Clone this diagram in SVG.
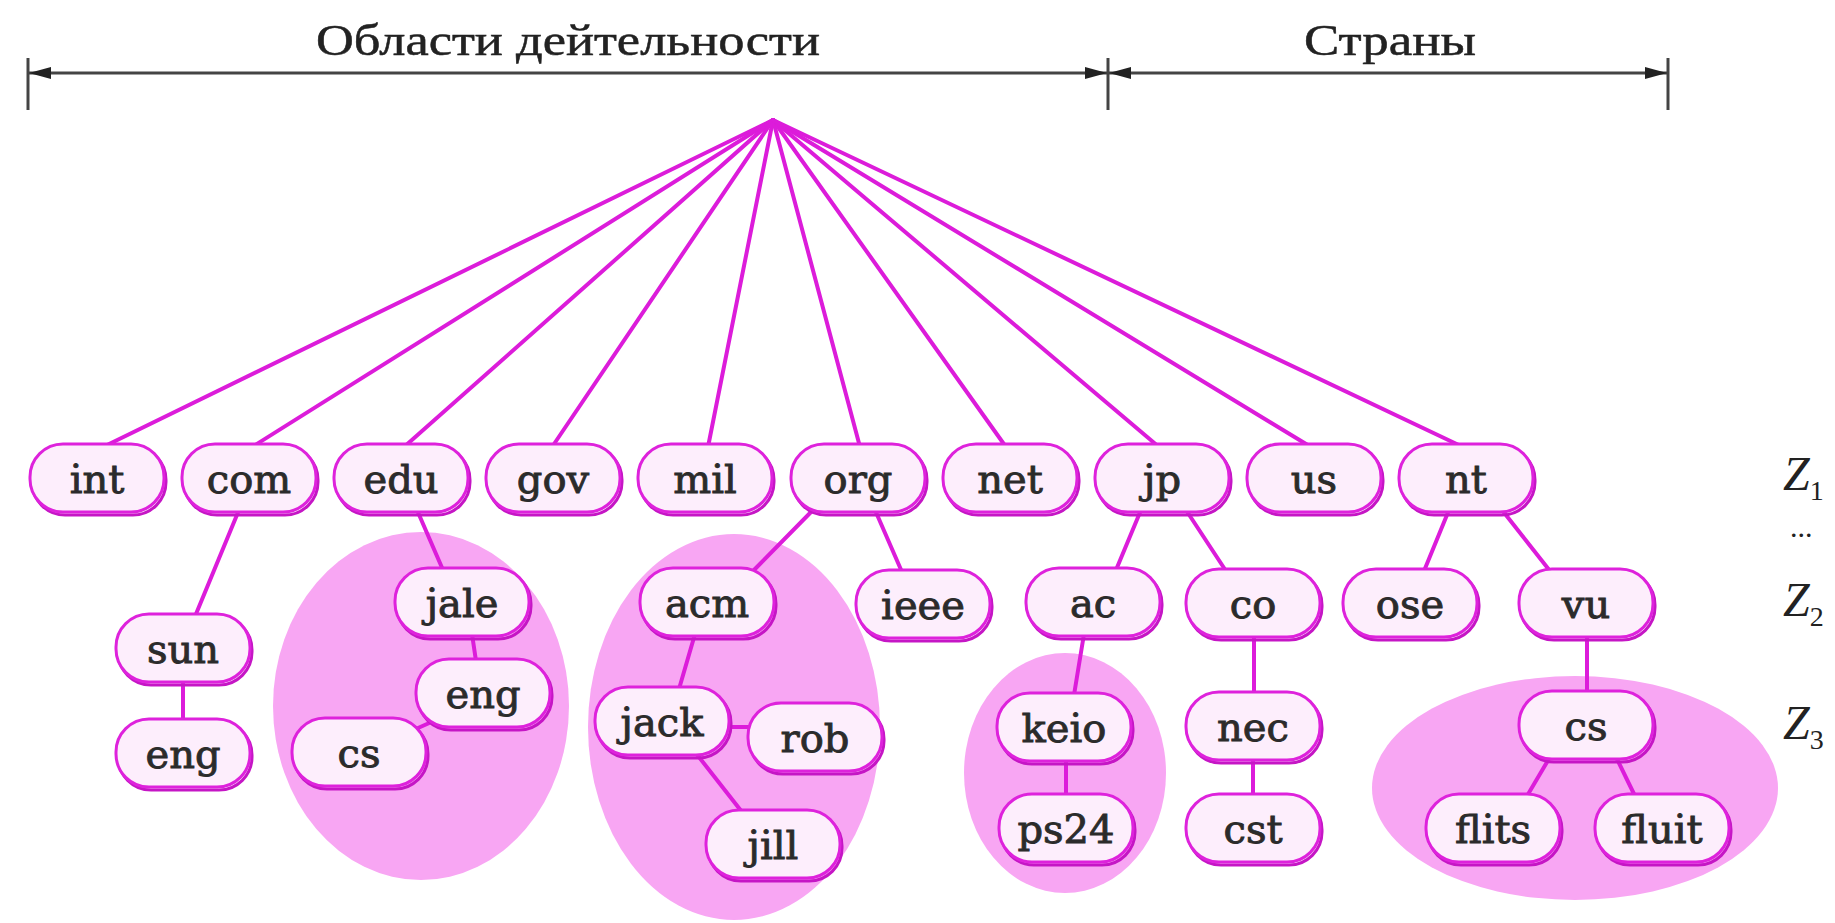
<svg xmlns="http://www.w3.org/2000/svg" width="1835" height="923" viewBox="0 0 1835 923">
  <style>
    .zone { fill: #f8a6f3; }
    .edge { stroke: #dc1cda; stroke-width: 4; fill: none; stroke-linecap: round; }
    .shadow { fill: none; stroke: #c516c5; stroke-width: 3; }
    .box { fill: #fdeefc; stroke: #de22dc; stroke-width: 3; }
    .lbl { font-family: "DejaVu Serif", "Liberation Serif", serif; font-size: 40px; fill: #2b2b2b; stroke: #2b2b2b; stroke-width: 0.9; text-anchor: middle; }
    .head { font-family: "Liberation Serif", "DejaVu Serif", serif; font-size: 44px; fill: #222; stroke: #222; stroke-width: 0.5; text-anchor: middle; }
    .zlbl { font-family: "Liberation Serif", "DejaVu Serif", serif; font-style: italic; font-size: 48px; fill: #222; }
    .zsub { font-style: normal; font-size: 28px; }
    .dim { stroke: #444; stroke-width: 3; fill: none; }
  </style>
  <defs>
    <marker id="arrow" markerUnits="userSpaceOnUse" markerWidth="24" markerHeight="14" refX="22" refY="7" orient="auto-start-reverse">
      <path d="M0,1 L22,7 L0,13 z" fill="#222"/>
    </marker>
    <!-- node shape: shadow outline plus rounded body, centred on the origin -->
    <g id="nodeShape">
      <rect class="shadow" x="-65" y="-31" width="134" height="68" rx="33"/>
      <rect class="box" x="-67" y="-34" width="134" height="68" rx="33"/>
    </g>
  </defs>

  <rect width="1835" height="923" fill="#ffffff"/>

  <!-- dimension bracket over the top-level domains -->
  <g id="scale">
    <line class="dim" x1="28" y1="58" x2="28" y2="110"/>
    <line class="dim" x1="1108" y1="58" x2="1108" y2="110"/>
    <line class="dim" x1="1668" y1="58" x2="1668" y2="110"/>
    <line class="dim" x1="29" y1="73" x2="1107" y2="73" marker-start="url(#arrow)" marker-end="url(#arrow)"/>
    <line class="dim" x1="1109" y1="73" x2="1667" y2="73" marker-start="url(#arrow)" marker-end="url(#arrow)"/>
    <text class="head" x="568" y="55" textLength="504" lengthAdjust="spacingAndGlyphs">Области дейтельности</text>
    <text class="head" x="1390" y="55" textLength="172" lengthAdjust="spacingAndGlyphs">Страны</text>
  </g>

  <!-- shaded zones -->
  <g id="zones">
    <ellipse class="zone" cx="421" cy="706" rx="148" ry="174"/>
    <ellipse class="zone" cx="734" cy="727" rx="146" ry="193"/>
    <ellipse class="zone" cx="1065" cy="773" rx="101" ry="120"/>
    <ellipse class="zone" cx="1575" cy="788" rx="203" ry="112"/>
  </g>

  <!-- connectors -->
  <g id="connectors">
    <line class="edge" x1="773" y1="120" x2="103" y2="447"/>
    <line class="edge" x1="773" y1="120" x2="252" y2="447"/>
    <line class="edge" x1="773" y1="120" x2="404" y2="447"/>
    <line class="edge" x1="773" y1="120" x2="552" y2="447"/>
    <line class="edge" x1="773" y1="120" x2="708" y2="447"/>
    <line class="edge" x1="773" y1="120" x2="860" y2="447"/>
    <line class="edge" x1="773" y1="120" x2="1006" y2="447"/>
    <line class="edge" x1="773" y1="120" x2="1159" y2="447"/>
    <line class="edge" x1="773" y1="120" x2="1311" y2="447"/>
    <line class="edge" x1="773" y1="120" x2="1463" y2="447"/>

    <line class="edge" x1="239" y1="510" x2="196" y2="614"/>
    <line class="edge" x1="183" y1="680" x2="183" y2="721"/>
    <line class="edge" x1="417" y1="510" x2="443" y2="570"/>
    <line class="edge" x1="472" y1="634" x2="476" y2="661"/>
    <line class="edge" x1="445" y1="716" x2="400" y2="736"/>

    <line class="edge" x1="813" y1="510" x2="754" y2="570"/>
    <line class="edge" x1="875" y1="510" x2="902" y2="572"/>
    <line class="edge" x1="695" y1="634" x2="679" y2="689"/>
    <line class="edge" x1="726" y1="727" x2="752" y2="727"/>
    <line class="edge" x1="695" y1="752" x2="742" y2="812"/>

    <line class="edge" x1="1141" y1="510" x2="1116" y2="570"/>
    <line class="edge" x1="1084" y1="634" x2="1074" y2="695"/>
    <line class="edge" x1="1066" y1="758" x2="1066" y2="796"/>
    <line class="edge" x1="1186" y1="510" x2="1226" y2="571"/>
    <line class="edge" x1="1254" y1="635" x2="1254" y2="694"/>
    <line class="edge" x1="1253" y1="758" x2="1253" y2="796"/>

    <line class="edge" x1="1449" y1="510" x2="1424" y2="571"/>
    <line class="edge" x1="1502" y1="510" x2="1550" y2="571"/>
    <line class="edge" x1="1587" y1="635" x2="1587" y2="693"/>
    <line class="edge" x1="1550" y1="757" x2="1527" y2="796"/>
    <line class="edge" x1="1616" y1="757" x2="1635" y2="796"/>
  </g>

  <!-- top-level domains -->
  <g id="n-int"><use href="#nodeShape" x="97" y="478"/><text class="lbl" x="97" y="493">int</text></g>
  <g id="n-com"><use href="#nodeShape" x="249" y="478"/><text class="lbl" x="249" y="493">com</text></g>
  <g id="n-edu"><use href="#nodeShape" x="401" y="478"/><text class="lbl" x="401" y="493">edu</text></g>
  <g id="n-gov"><use href="#nodeShape" x="553" y="478"/><text class="lbl" x="553" y="493">gov</text></g>
  <g id="n-mil"><use href="#nodeShape" x="705" y="478"/><text class="lbl" x="705" y="493">mil</text></g>
  <g id="n-org"><use href="#nodeShape" x="858" y="478"/><text class="lbl" x="858" y="493">org</text></g>
  <g id="n-net"><use href="#nodeShape" x="1010" y="478"/><text class="lbl" x="1010" y="493">net</text></g>
  <g id="n-jp"><use href="#nodeShape" x="1162" y="478"/><text class="lbl" x="1162" y="493">jp</text></g>
  <g id="n-us"><use href="#nodeShape" x="1314" y="478"/><text class="lbl" x="1314" y="493">us</text></g>
  <g id="n-nt"><use href="#nodeShape" x="1466" y="478"/><text class="lbl" x="1466" y="493">nt</text></g>

  <!-- second level -->
  <g id="n-sun"><use href="#nodeShape" x="183" y="648"/><text class="lbl" x="183" y="663">sun</text></g>
  <g id="n-jale"><use href="#nodeShape" x="462" y="602"/><text class="lbl" x="462" y="617">jale</text></g>
  <g id="n-acm"><use href="#nodeShape" x="707" y="602"/><text class="lbl" x="707" y="617">acm</text></g>
  <g id="n-ieee"><use href="#nodeShape" x="923" y="604"/><text class="lbl" x="923" y="619">ieee</text></g>
  <g id="n-ac"><use href="#nodeShape" x="1093" y="602"/><text class="lbl" x="1093" y="617">ac</text></g>
  <g id="n-co"><use href="#nodeShape" x="1253" y="603"/><text class="lbl" x="1253" y="618">co</text></g>
  <g id="n-ose"><use href="#nodeShape" x="1410" y="603"/><text class="lbl" x="1410" y="618">ose</text></g>
  <g id="n-vu"><use href="#nodeShape" x="1586" y="603"/><text class="lbl" x="1586" y="618">vu</text></g>

  <!-- third level and below -->
  <g id="n-sun-eng"><use href="#nodeShape" x="183" y="753"/><text class="lbl" x="183" y="768">eng</text></g>
  <g id="n-jale-eng"><use href="#nodeShape" x="483" y="693"/><text class="lbl" x="483" y="708">eng</text></g>
  <g id="n-eng-cs"><use href="#nodeShape" x="359" y="752"/><text class="lbl" x="359" y="767">cs</text></g>
  <g id="n-jack"><use href="#nodeShape" x="662" y="721"/><text class="lbl" x="662" y="736">jack</text></g>
  <g id="n-rob"><use href="#nodeShape" x="815" y="737"/><text class="lbl" x="815" y="752">rob</text></g>
  <g id="n-jill"><use href="#nodeShape" x="773" y="844"/><text class="lbl" x="773" y="859">jill</text></g>
  <g id="n-keio"><use href="#nodeShape" x="1064" y="727"/><text class="lbl" x="1064" y="742">keio</text></g>
  <g id="n-ps24"><use href="#nodeShape" x="1066" y="828"/><text class="lbl" x="1066" y="843">ps24</text></g>
  <g id="n-nec"><use href="#nodeShape" x="1253" y="726"/><text class="lbl" x="1253" y="741">nec</text></g>
  <g id="n-cst"><use href="#nodeShape" x="1253" y="828"/><text class="lbl" x="1253" y="843">cst</text></g>
  <g id="n-vu-cs"><use href="#nodeShape" x="1586" y="725"/><text class="lbl" x="1586" y="740">cs</text></g>
  <g id="n-flits"><use href="#nodeShape" x="1493" y="828"/><text class="lbl" x="1493" y="843">flits</text></g>
  <g id="n-fluit"><use href="#nodeShape" x="1662" y="828"/><text class="lbl" x="1662" y="843">fluit</text></g>

  <!-- zone level markers -->
  <g id="levels">
    <text class="zlbl" x="1783" y="490">Z<tspan class="zsub" dy="10">1</tspan></text>
    <text class="zlbl" x="1790" y="537" style="font-size:30px;font-style:normal">...</text>
    <text class="zlbl" x="1783" y="616">Z<tspan class="zsub" dy="10">2</tspan></text>
    <text class="zlbl" x="1783" y="739">Z<tspan class="zsub" dy="10">3</tspan></text>
  </g>
</svg>
